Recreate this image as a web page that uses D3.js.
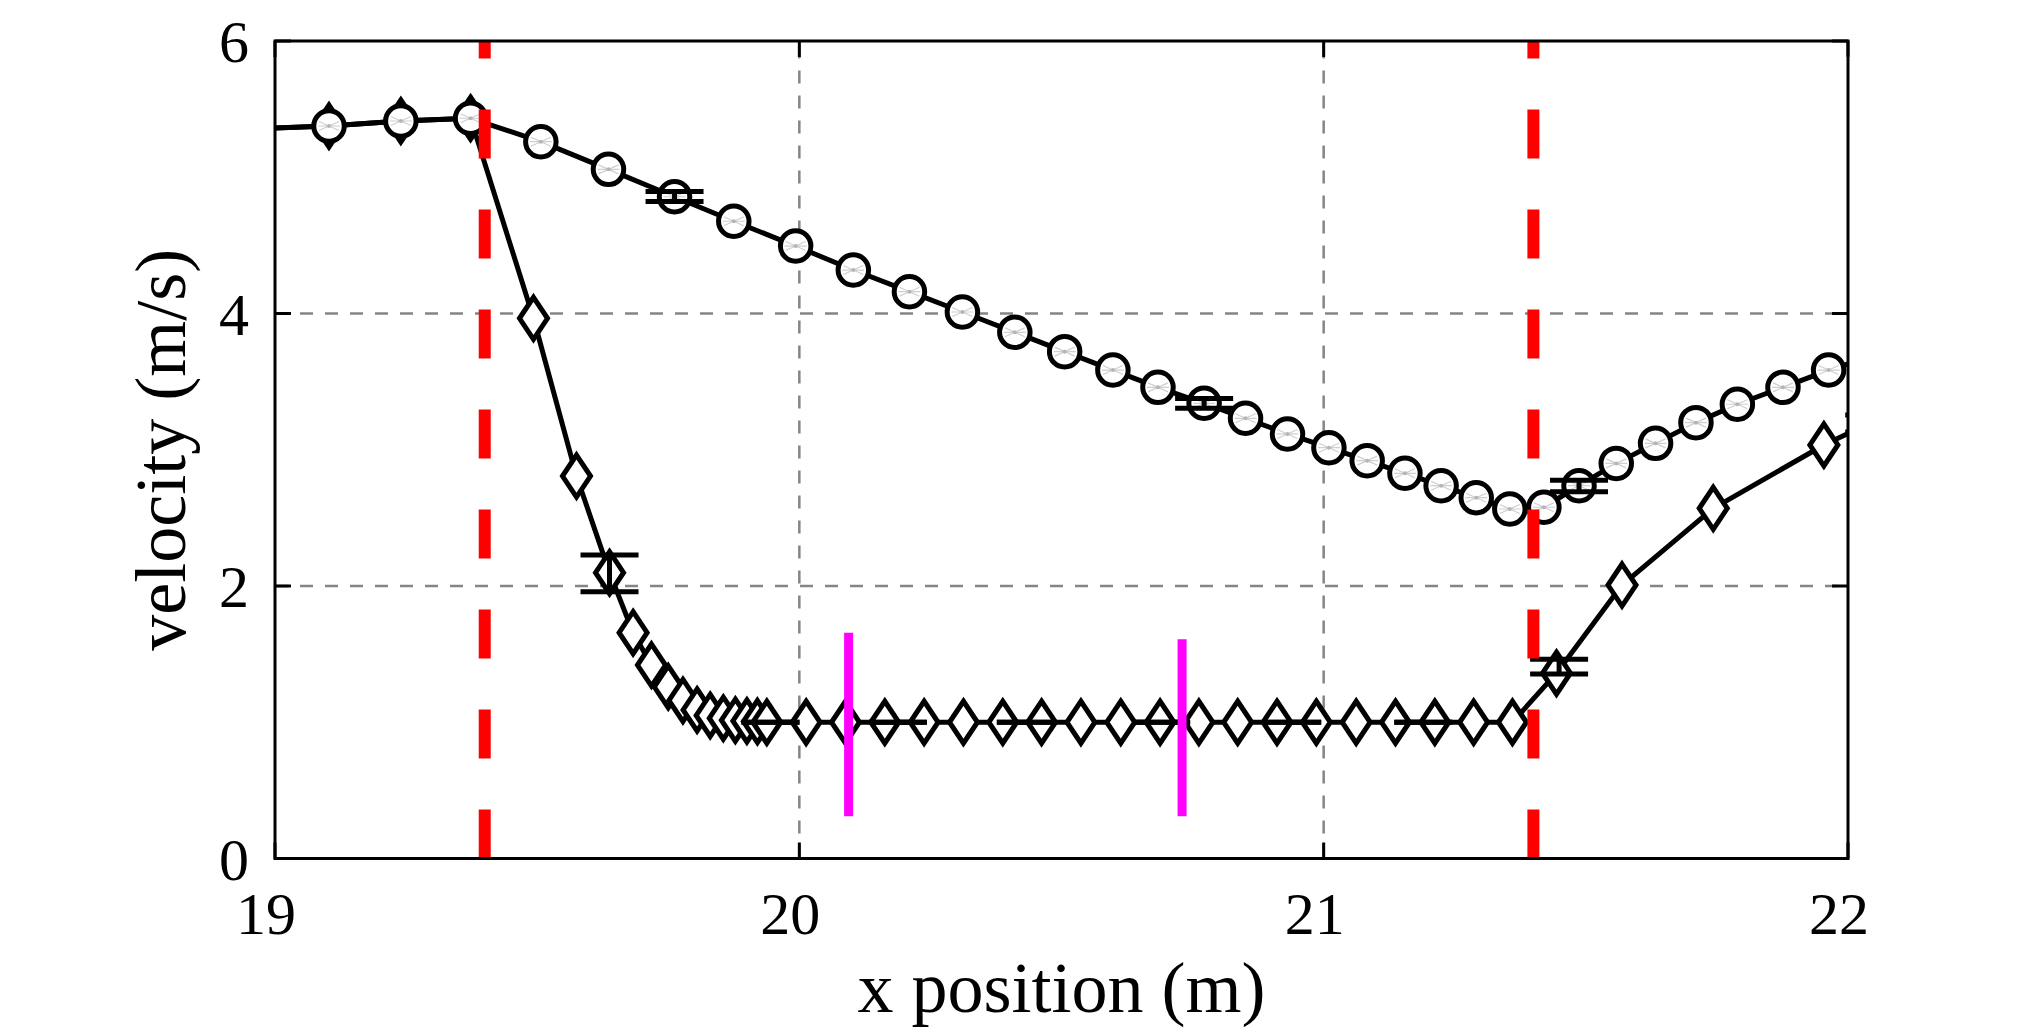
<!DOCTYPE html>
<html>
<head>
<meta charset="utf-8">
<script src="https://cdn.jsdelivr.net/npm/d3@7/dist/d3.min.js"></script>
<style>
  body { margin: 0; background: #fff; }
  svg { display: block; font-family: "Liberation Serif", "Times New Roman", serif; }
</style>
</head>
<body>
<div id="chart"></div>
<script>
/* global d3 */

// ---- data ----
// circle series (upper curve)
const circleX = [18.96, 19.103, 19.240, 19.373, 19.507, 19.636, 19.762, 19.875, 19.993, 20.103,
  20.210, 20.311, 20.411, 20.506, 20.598, 20.684, 20.772, 20.851, 20.931, 21.010,
  21.083, 21.155, 21.224, 21.291, 21.355, 21.420, 21.487, 21.558, 21.633, 21.710,
  21.789, 21.876, 21.963, 22.04];
const circleV = [5.355, 5.376, 5.413, 5.433, 5.261, 5.058, 4.857, 4.677, 4.495, 4.319,
  4.160, 4.011, 3.862, 3.720, 3.585, 3.458, 3.341, 3.231, 3.116, 3.015,
  2.920, 2.827, 2.736, 2.648, 2.565, 2.578, 2.736, 2.900, 3.047, 3.199,
  3.334, 3.458, 3.585, 3.68];

// diamond series (lower curve)
const diamondX = [18.96, 19.103, 19.240, 19.373, 19.493, 19.575, 19.638, 19.683, 19.718, 19.750,
  19.778, 19.805, 19.830, 19.855, 19.878, 19.900, 19.920, 19.938, 20.013, 20.088,
  20.163, 20.238, 20.313, 20.388, 20.462, 20.537, 20.613, 20.688, 20.762, 20.836,
  20.911, 20.986, 21.062, 21.137, 21.212, 21.286, 21.360, 21.444, 21.569, 21.743,
  21.954, 22.05];
const diamondV = [5.355, 5.376, 5.413, 5.433, 3.965, 2.807, 2.098, 1.657, 1.420, 1.26,
  1.16, 1.09, 1.05, 1.03, 1.015, 1.01, 1.005, 1.0, 1.0, 1.0,
  1.0, 1.0, 1.0, 1.0, 1.0, 1.0, 1.0, 1.0, 1.0, 1.0,
  1.0, 1.0, 1.0, 1.0, 1.0, 1.0, 1.0, 1.36, 2.007, 2.570,
  3.035, 3.21];

// error bars (x, lower, upper)
const errX  = [19.762, 20.772, 21.487, 19.638, 19.945, 20.188, 20.432, 20.69, 20.94, 21.19, 21.449, 22.05];
const errLo = [4.822, 3.304, 2.692, 1.958, 1.0, 1.0, 1.0, 1.0, 1.0, 1.0, 1.354, 3.13];
const errHi = [4.895, 3.377, 2.776, 2.228, 1.0, 1.0, 1.0, 1.0, 1.0, 1.0, 1.462, 3.255];

// reference lines
const redLineX = [19.4, 21.4];
const magentaX = [20.094, 20.73];
const magentaLo = [0.31, 0.31];
const magentaHi = [1.657, 1.61];

// axes
const xTicks = [19, 20, 21, 22];
const yTicks = [0, 2, 4, 6];
const xLabel = 'x position (m)';
const yLabel = 'velocity (m/s)';

// ---- dimensions ----
const WIDTH = 2032;
const HEIGHT = 1034;
const MARGIN_LEFT = 275;
const MARGIN_RIGHT = 184;
const MARGIN_TOP = 41;
const MARGIN_BOTTOM = 175.5;
const TICK = 16;
const LW = 5;

const x = d3.scaleLinear().domain([19, 22]).range([MARGIN_LEFT, WIDTH - MARGIN_RIGHT]);
const y = d3.scaleLinear().domain([0, 6]).range([HEIGHT - MARGIN_BOTTOM, MARGIN_TOP]);

const circles = circleX.map((d, i) => ({ x: d, v: circleV[i] }));
const diamonds = diamondX.map((d, i) => ({ x: d, v: diamondV[i] }));
const errs = errX.map((d, i) => ({ x: d, lo: errLo[i], hi: errHi[i] }));
const inside = d => d.x >= 19 && d.x <= 22;

const $svg = d3.select('#chart').append('svg')
  .attr('width', WIDTH)
  .attr('height', HEIGHT);

$svg.append('rect').attr('width', WIDTH).attr('height', HEIGHT).attr('fill', '#fff');

$svg.append('clipPath').attr('id', 'plot-clip')
  .append('rect')
  .attr('x', x(19)).attr('y', y(6))
  .attr('width', x(22) - x(19)).attr('height', y(0) - y(6));

// grid
const $grid = $svg.append('g').attr('class', 'grid')
  .attr('stroke', '#858585').attr('stroke-width', 2.5).attr('stroke-dasharray', '13,12');
$grid.selectAll('.gx').data(xTicks.filter(d => d > 19 && d < 22)).join('line')
  .attr('x1', d => x(d)).attr('x2', d => x(d))
  .attr('y1', y(0)).attr('y2', y(6));
$grid.selectAll('.gy').data(yTicks.filter(d => d > 0 && d < 6)).join('line')
  .attr('x1', x(19)).attr('x2', x(22))
  .attr('y1', d => y(d)).attr('y2', d => y(d));

const $vis = $svg.append('g').attr('class', 'g-vis');
const line = d3.line().x(d => x(d.x)).y(d => y(d.v));

// diamond series
$vis.append('path').datum(diamonds)
  .attr('clip-path', 'url(#plot-clip)')
  .attr('fill', 'none').attr('stroke', '#000').attr('stroke-width', LW)
  .attr('stroke-linejoin', 'round')
  .attr('d', line);
$vis.selectAll('.diamond').data(diamonds.filter(inside)).join('path')
  .attr('class', 'diamond')
  .attr('transform', d => `translate(${x(d.x)},${y(d.v)})`)
  .attr('d', 'M0,-21L14,0L0,21L-14,0Z')
  .attr('fill', '#fff').attr('stroke', '#000').attr('stroke-width', LW)
  .attr('stroke-linejoin', 'miter');

// circle series
$vis.append('path').datum(circles)
  .attr('clip-path', 'url(#plot-clip)')
  .attr('fill', 'none').attr('stroke', '#000').attr('stroke-width', LW)
  .attr('stroke-linejoin', 'round')
  .attr('d', line);
const $c = $vis.selectAll('.circle').data(circles.filter(inside)).join('g')
  .attr('class', 'circle')
  .attr('transform', d => `translate(${x(d.x)},${y(d.v)})`);
$c.append('circle').attr('r', 15.25)
  .attr('fill', '#fff').attr('stroke', '#000').attr('stroke-width', LW);
// faint grey star inside each circle
$c.append('path')
  .attr('d', 'M-11,0L11,0M-10,-4.5L10,4.5M-10,4.5L10,-4.5')
  .attr('stroke', '#cfcfcf').attr('stroke-width', 1.2).attr('fill', 'none');
$c.append('circle').attr('r', 2).attr('fill', '#b5b5b5');

// error bars
const $err = $vis.append('g').attr('class', 'err')
  .attr('clip-path', 'url(#plot-clip)')
  .attr('stroke', '#000').attr('stroke-width', LW);
const CAP = 29;
const $e = $err.selectAll('g').data(errs).join('g');
$e.append('line')
  .attr('x1', d => x(d.x)).attr('x2', d => x(d.x))
  .attr('y1', d => y(d.lo)).attr('y2', d => y(d.hi));
$e.append('line')
  .attr('x1', d => x(d.x) - CAP).attr('x2', d => x(d.x) + CAP)
  .attr('y1', d => y(d.lo)).attr('y2', d => y(d.lo));
$e.append('line')
  .attr('x1', d => x(d.x) - CAP).attr('x2', d => x(d.x) + CAP)
  .attr('y1', d => y(d.hi)).attr('y2', d => y(d.hi));

// red dashed markers
$vis.selectAll('.red').data(redLineX).join('line')
  .attr('class', 'red')
  .attr('x1', d => x(d)).attr('x2', d => x(d))
  .attr('y1', y(0)).attr('y2', y(6))
  .attr('stroke', '#ff0000').attr('stroke-width', 12)
  .attr('stroke-dasharray', '49,51');

// magenta bars
$vis.selectAll('.magenta').data(magentaX).join('line')
  .attr('class', 'magenta')
  .attr('x1', d => x(d)).attr('x2', d => x(d))
  .attr('y1', (d, i) => y(magentaLo[i])).attr('y2', (d, i) => y(magentaHi[i]))
  .attr('stroke', '#ff00ff').attr('stroke-width', 9);

// axes box + inward ticks
const $axis = $svg.append('g').attr('class', 'g-axis').attr('stroke', '#000').attr('stroke-width', 3);
$axis.selectAll('.tb').data(xTicks).join('line')
  .attr('x1', d => x(d)).attr('x2', d => x(d))
  .attr('y1', y(0)).attr('y2', y(0) - TICK);
$axis.selectAll('.tt').data(xTicks).join('line')
  .attr('x1', d => x(d)).attr('x2', d => x(d))
  .attr('y1', y(6)).attr('y2', y(6) + TICK);
$axis.selectAll('.tl').data(yTicks).join('line')
  .attr('x1', x(19)).attr('x2', x(19) + TICK)
  .attr('y1', d => y(d)).attr('y2', d => y(d));
$axis.selectAll('.tr').data(yTicks).join('line')
  .attr('x1', x(22)).attr('x2', x(22) - TICK)
  .attr('y1', d => y(d)).attr('y2', d => y(d));
$axis.append('rect')
  .attr('x', x(19)).attr('y', y(6))
  .attr('width', x(22) - x(19)).attr('height', y(0) - y(6))
  .attr('fill', 'none');

// tick labels
$svg.append('g').selectAll('text').data(xTicks).join('text')
  .attr('x', d => x(d) - 9).attr('y', 934)
  .attr('text-anchor', 'middle').attr('font-size', 60)
  .text(d => d);
$svg.append('g').selectAll('text').data(yTicks).join('text')
  .attr('x', 249).attr('y', d => y(d) + 21)
  .attr('text-anchor', 'end').attr('font-size', 60)
  .text(d => d);

// axis titles
$svg.append('text')
  .attr('x', (x(19) + x(22)) / 2).attr('y', 1012)
  .attr('text-anchor', 'middle').attr('font-size', 72)
  .text(xLabel);
$svg.append('text')
  .attr('transform', `translate(185,${(y(0) + y(6)) / 2}) rotate(-90)`)
  .attr('text-anchor', 'middle').attr('font-size', 72)
  .text(yLabel);
</script>
</body>
</html>
